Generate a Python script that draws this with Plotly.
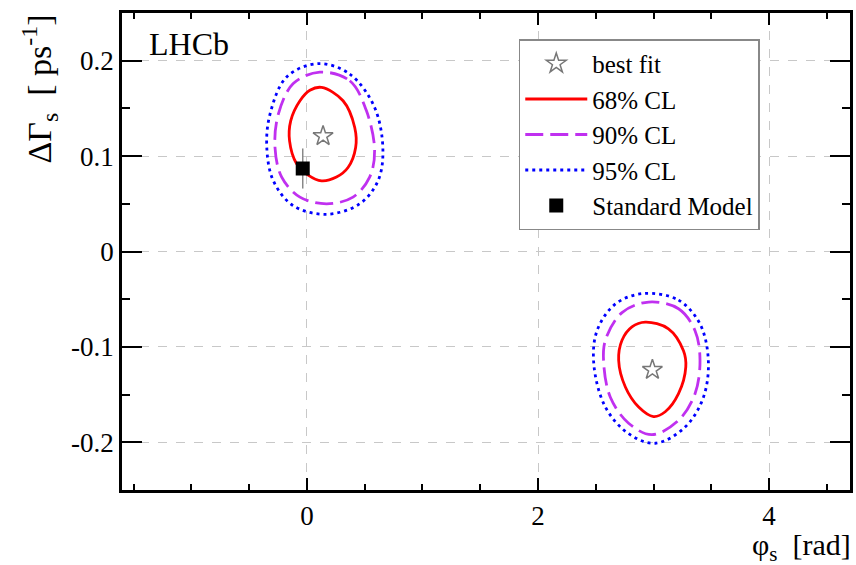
import plotly.graph_objects as go

# ---- data ----
# island 1 (near phi_s ~ 0)
c68_a_x = [0.127, 0.313, 0.414, 0.422, 0.356, 0.256, 0.127, 0.011, -0.089, -0.150, -0.140, -0.060, 0.026]
c68_a_y = [0.172, 0.158, 0.130, 0.109, 0.088, 0.078, 0.074, 0.080, 0.092, 0.116, 0.137, 0.158, 0.169]
c90_a_x = [0.112, 0.371, 0.514, 0.586, 0.543, 0.399, 0.170, -0.060, -0.218, -0.276, -0.247, -0.118]
c90_a_y = [0.188, 0.179, 0.148, 0.106, 0.078, 0.057, 0.050, 0.057, 0.078, 0.109, 0.144, 0.176]
c95_a_x = [0.098, 0.371, 0.586, 0.658, 0.615, 0.457, 0.170, -0.118, -0.290, -0.347, -0.319, -0.175]
c95_a_y = [0.197, 0.186, 0.151, 0.106, 0.074, 0.050, 0.039, 0.048, 0.074, 0.109, 0.144, 0.183]
# island 2 (near phi_s ~ pi)
c68_b_x = [2.928, 3.129, 3.259, 3.279, 3.216, 3.101, 3.000, 2.871, 2.756, 2.698, 2.727, 2.813]
c68_b_y = [-0.074, -0.081, -0.104, -0.121, -0.149, -0.168, -0.173, -0.163, -0.142, -0.114, -0.093, -0.079]
c90_b_x = [2.957, 3.216, 3.359, 3.402, 3.359, 3.216, 2.986, 2.784, 2.627, 2.569, 2.583, 2.727]
c90_b_y = [-0.053, -0.060, -0.083, -0.114, -0.149, -0.177, -0.192, -0.180, -0.153, -0.118, -0.093, -0.064]
c95_b_x = [2.914, 3.216, 3.402, 3.474, 3.431, 3.273, 3.015, 2.784, 2.583, 2.483, 2.511, 2.670]
c95_b_y = [-0.044, -0.051, -0.076, -0.114, -0.153, -0.184, -0.201, -0.191, -0.163, -0.118, -0.083, -0.055]

best_fit_x = [0.14, 2.99]
best_fit_y = [0.121, -0.124]
sm_x = [-0.036]
sm_y = [0.087]
sm_err = [0.021]

x_tickvals = [0, 2, 4]
x_ticktext = ["0", "2", "4"]
y_tickvals = [-0.2, -0.1, 0, 0.1, 0.2]
y_ticktext = ["-0.2", "-0.1", "0", "0.1", "0.2"]

FONT = "Liberation Serif"
RED = "#ff0000"
MAG = "#c030f0"
BLUE = "#0000ff"


def closed(xs, ys):
    return list(xs) + [xs[0]], list(ys) + [ys[0]]


fig = go.Figure()

fig.add_trace(go.Scatter(x=best_fit_x, y=best_fit_y, mode="markers", name="best fit",
                         marker=dict(symbol="star-open", size=15, color="#777777",
                                     line=dict(width=1.5, color="#777777"))))

contours = [
    ("68% CL", RED, "solid", 2.8, [(c68_a_x, c68_a_y), (c68_b_x, c68_b_y)]),
    ("90% CL", MAG, "18px,7px", 2.8, [(c90_a_x, c90_a_y), (c90_b_x, c90_b_y)]),
    ("95% CL", BLUE, "3px,4px", 2.8, [(c95_a_x, c95_a_y), (c95_b_x, c95_b_y)]),
]
for name, col, dash, w, parts in contours:
    for i, (xs, ys) in enumerate(parts):
        cx, cy = closed(xs, ys)
        fig.add_trace(go.Scatter(x=cx, y=cy, mode="lines", name=name,
                                 line=dict(color=col, dash=dash, width=w, shape="spline", smoothing=1.0),
                                 showlegend=(i == 0), legendgroup=name))

fig.add_trace(go.Scatter(x=sm_x, y=sm_y, mode="markers", name="Standard Model",
                         marker=dict(symbol="square", size=14, color="black"),
                         error_y=dict(type="data", array=sm_err, color="#888888", thickness=1.5, width=0)))

axis_common = dict(showline=True, linecolor="black", linewidth=2.5, mirror="ticks",
                   ticks="inside", tickcolor="black", tickwidth=2,
                   showgrid=True, gridcolor="#c8c8c8", griddash="dash", gridwidth=1.2,
                   zeroline=False, tickfont=dict(family=FONT, size=27, color="black"))

fig.update_xaxes(range=[-1.6, 4.7], tickvals=x_tickvals, ticktext=x_ticktext, ticklen=12,
                 minor=dict(dtick=0.5, ticks="inside", ticklen=6, tickcolor="black", tickwidth=1.5, showgrid=False),
                 **axis_common)
fig.update_yaxes(range=[-0.25, 0.25], tickvals=y_tickvals, ticktext=y_ticktext, ticklen=20,
                 minor=dict(dtick=0.05, ticks="inside", ticklen=8, tickcolor="black", tickwidth=1.5, showgrid=False),
                 **axis_common)

fig.add_annotation(x=0.034, y=0.935, xref="paper", yref="paper", text="LHCb", showarrow=False,
                   xanchor="left", yanchor="middle", font=dict(family=FONT, size=32, color="black"))
fig.add_annotation(x=1.004, y=-0.12, xref="paper", yref="paper", text="φ<sub>s</sub>  [rad]",
                   showarrow=False, xanchor="right", yanchor="middle",
                   font=dict(family=FONT, size=30, color="black"))
fig.add_annotation(x=-0.114, y=1.0, xref="paper", yref="paper", text="ΔΓ<sub>s</sub>  [ ps<sup>-1</sup>]",
                   showarrow=False, textangle=-90, xanchor="center", yanchor="top",
                   font=dict(family=FONT, size=34, color="black"))

fig.update_layout(
    width=856, height=565,
    margin=dict(l=122, r=3, t=13, b=75),
    plot_bgcolor="white", paper_bgcolor="white",
    legend=dict(x=0.545, y=0.945, xanchor="left", yanchor="top",
                bgcolor="white", bordercolor="#888888", borderwidth=1.5,
                font=dict(family=FONT, size=25, color="black"),
                itemwidth=62, tracegroupgap=0),
    showlegend=True,
)

fig.write_html("out.html", config={"displayModeBar": False},
               post_script="document.body.style.margin='0';document.body.style.padding='0';")
